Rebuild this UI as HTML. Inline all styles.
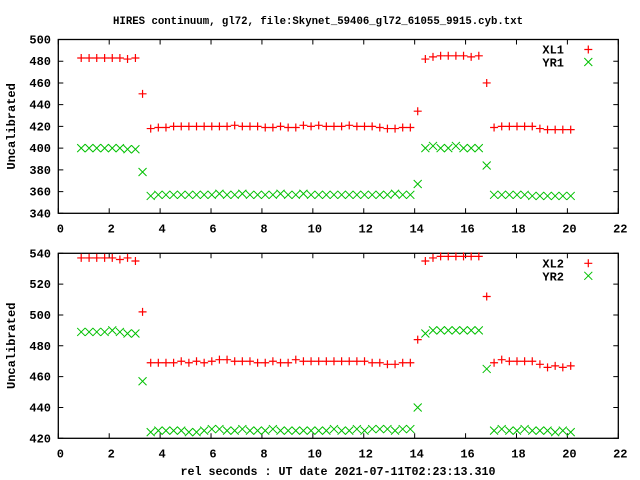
<!DOCTYPE html>
<html><head><meta charset="utf-8"><style>
html,body{margin:0;padding:0;background:#fff;}
svg{display:block;font-family:"Liberation Mono","DejaVu Sans Mono",monospace;font-weight:bold;}
</style></head><body>
<svg id="chart" width="640" height="480" viewBox="0 0 640 480" xmlns="http://www.w3.org/2000/svg">
<rect width="640" height="480" fill="#fff"/>
<text x="318" y="24" text-anchor="middle" font-size="11" textLength="410" lengthAdjust="spacingAndGlyphs">HIRES continuum, gl72, file:Skynet_59406_gl72_61055_9915.cyb.txt</text>
<text x="338" y="475" text-anchor="middle" font-size="12" textLength="315" lengthAdjust="spacingAndGlyphs">rel seconds : UT date 2021-07-11T02:23:13.310</text>
<g id="p1"></g>
<g id="p2"></g>
</svg>
<script>
const xs = [0.90,1.21,1.51,1.82,2.12,2.42,2.72,3.03, 3.31,
3.63,3.93,4.23,4.53,4.83,5.13,5.43,5.73,6.03,6.33,6.63,6.93,7.23,7.53,7.83,8.13,8.43,8.73,9.03,9.33,9.63,9.93,10.23,10.53,10.83,11.13,11.43,11.73,12.03,12.33,12.63,12.93,13.23,13.53,13.83,
14.12, 14.42,14.72,15.02,15.32,15.62,15.92,16.22,16.52, 16.83,
17.12,17.42,17.72,18.02,18.32,18.62,18.92,19.22,19.52,19.82,20.13];
const xl1 = [483,483,483,483,483,483,482,483, 450,
418,419,419,420,420,420,420,420,420,420,420,421,420,420,420,419,419,420,419,419,421,420,421,
420,420,420,421,420,420,420,419,418,418,419,419,
434, 482,484,485,485,485,485,484,485, 460,
419,420,420,420,420,420,418,417,417,417,417];
const yr1 = [400,400,400,400,400,400,399,399, 378,
356,357,357,357,357,357,357,357,357,358,357,357,358,357,357,357,357,358,357,357,358,357,357,
357,357,357,357,357,357,357,357,357,358,357,357,
367, 400,402,400,400,402,400,400,400, 384,
357,357,357,357,357,356,356,356,356,356,356];
const xl2 = [537,537,537,537,537,536,537,535, 502,
469,469,469,469,470,469,470,469,470,471,471,470,470,470,469,469,470,469,469,471,470,470,470,
470,470,470,470,470,470,469,469,468,468,469,469,
484, 535,537,538,538,538,538,538,538, 512,
469,471,470,470,470,470,468,466,467,466,467];
const yr2 = [489,489,489,489,490,489,488,488, 457,
424,425,425,425,425,424,424,425,426,426,425,425,426,425,425,425,426,425,425,425,425,425,425,
425,426,425,425,426,425,426,426,426,425,426,426,
440, 488,490,490,490,490,490,490,490, 465,
425,426,425,425,426,425,425,425,424,425,424];
const xTicks = [0,2,4,6,8,10,12,14,16,18,20,22];
const yTicks1 = [340,360,380,400,420,440,460,480,500];
const yTicks2 = [420,440,460,480,500,520,540];
const NS='http://www.w3.org/2000/svg';
const L=58.3,R=618.3;
function mk(t,a,parent){const e=document.createElementNS(NS,t);for(const k in a)e.setAttribute(k,a[k]);parent.appendChild(e);return e;}
function xS(v){return L+(v-0)/(22-0)*(R-L);}
function panel(g,top,bot,ymin,ymax,yt,s1,s2,n1,n2){
  const yS=v=>bot-(v-ymin)/(ymax-ymin)*(bot-top);
  for(const t of xTicks){
    const x=xS(t);
    const tk=mk('path',{d:`M${x},${bot}v-5M${x},${top}v5`,stroke:'#000','stroke-width':1},g);
    
    
    const lb=mk('text',{x:x+2,y:bot+19,'text-anchor':'middle','font-size':12},g);
    lb.textContent=t;
    
    
  }
  for(const t of yt){
    const y=yS(t);
    const tk=mk('path',{d:`M${L},${y}h5M${R},${y}h-5`,stroke:'#000','stroke-width':1},g);
    
    
    const lb=mk('text',{x:51,y:y+4,'text-anchor':'end','font-size':12},g);
    lb.textContent=t;
    
    
  }
  const fr=mk('rect',{x:L,y:top,width:R-L,height:bot-top,fill:'none',stroke:'#000','stroke-width':1.3},g);
  
  
  const yl=mk('text',{x:0,y:0,transform:`translate(15,${(top+bot)/2}) rotate(-90)`,'text-anchor':'middle','font-size':12},g);
  yl.textContent='Uncalibrated';
  
  
  function plus(x,y,p){return mk('path',{d:`M${x-4},${y}h8M${x},${y-4}v8`,stroke:'#f00','stroke-width':1.2,fill:'none'},p);}
  function cross(x,y,p){return mk('path',{d:`M${x-4},${y-4}l8,8M${x-4},${y+4}l8,-8`,stroke:'#00c000','stroke-width':1,fill:'none'},p);}
  xs.forEach((v,i)=>{
    const m=plus(xS(v),yS(s1[i]),g);
    
    
  });
  xs.forEach((v,i)=>{
    const m=cross(xS(v),yS(s2[i]),g);
    
    
  });
  const t1=mk('text',{x:564,y:top+14,'text-anchor':'end','font-size':12},g);
  t1.textContent=n1.toUpperCase();
  
  
  const t2=mk('text',{x:564,y:top+27,'text-anchor':'end','font-size':12},g);
  t2.textContent=n2.toUpperCase();
  
  
  const m1=plus(588.3,top+10,g);
  
  
  const m2=cross(588.3,top+22.5,g);
  
  
}
panel(document.getElementById('p1'),39.5,213.3,340,500,yTicks1,xl1,yr1,'xl1','yr1');
panel(document.getElementById('p2'),253.3,438.3,420,540,yTicks2,xl2,yr2,'xl2','yr2');
</script>
</body></html>
